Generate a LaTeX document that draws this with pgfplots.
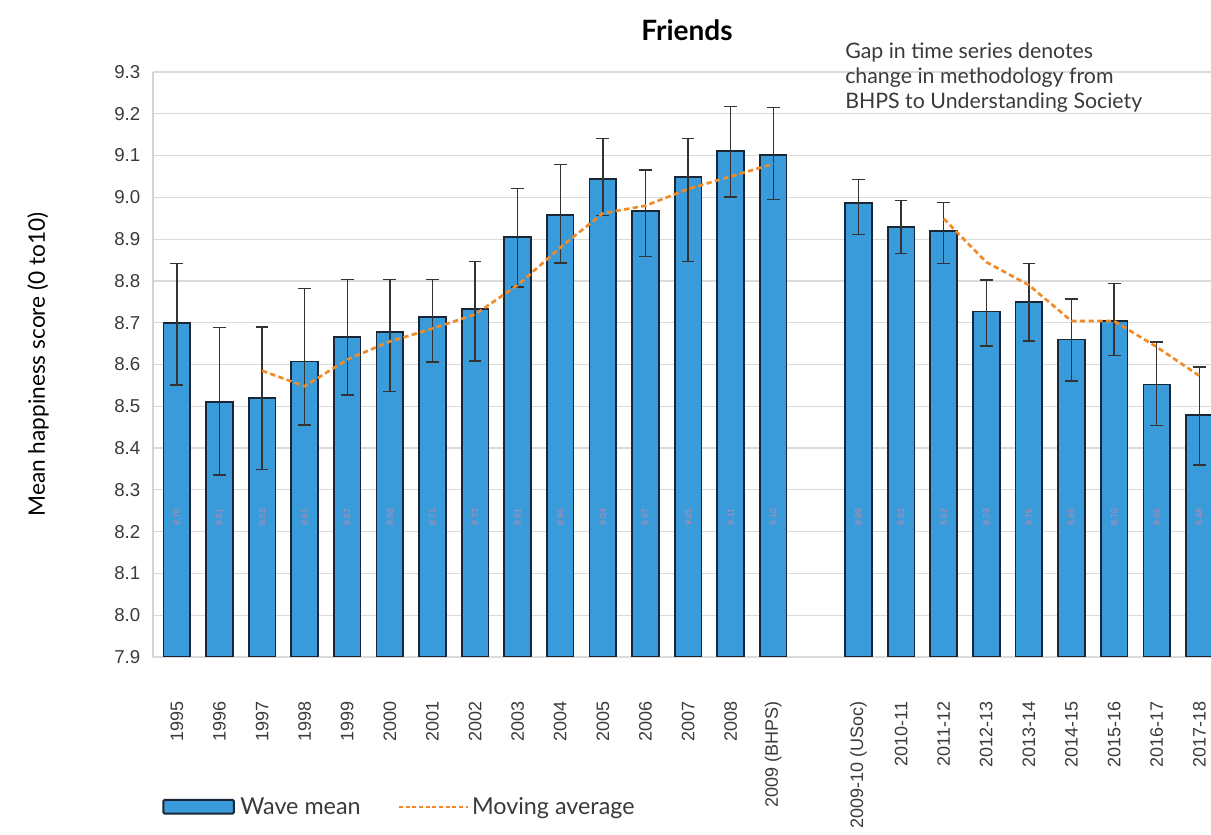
\documentclass[border=0pt]{standalone}
\usepackage{pgfplots}
\pgfplotsset{compat=1.18}
\usepackage{pgfplotstable}
\usepackage{fontspec}
\setmainfont{Lato}
\newfontfamily\arialf{Liberation Sans}
\definecolor{barblue}{HTML}{3A9BDA}
\definecolor{baredge}{HTML}{1A2633}
\definecolor{maorange}{HTML}{F28A26}
\definecolor{txt}{HTML}{3A3A3A}
\definecolor{errc}{HTML}{333333}
\definecolor{labc}{HTML}{C48AA6}

\pgfplotstableread{
x y ep em
0 8.700 0.142 0.149
1 8.510 0.178 0.175
2 8.520 0.170 0.171
3 8.607 0.175 0.152
4 8.665 0.139 0.138
5 8.677 0.127 0.142
6 8.713 0.091 0.107
7 8.732 0.115 0.124
8 8.905 0.116 0.119
9 8.957 0.122 0.114
10 9.044 0.097 0.087
11 8.967 0.098 0.109
12 9.049 0.092 0.203
13 9.111 0.106 0.110
14 9.101 0.114 0.106
16 8.987 0.056 0.076
17 8.929 0.063 0.063
18 8.919 0.069 0.077
19 8.727 0.075 0.083
20 8.749 0.093 0.093
21 8.660 0.097 0.099
22 8.704 0.090 0.082
23 8.552 0.102 0.098
24 8.479 0.115 0.119
}\barsdata

\pgfplotstableread{
x ma
2 8.585
3 8.548
4 8.612
5 8.655
6 8.686
7 8.720
8 8.790
9 8.880
10 8.962
11 8.980
12 9.020
13 9.050
14 9.080
}\maA

\pgfplotstableread{
x ma
18 8.949
19 8.845
20 8.790
21 8.704
22 8.704
23 8.642
24 8.573
}\maB

\begin{document}
\begin{tikzpicture}
\useasboundingbox (0,0) rectangle (908.25pt,626.25pt);
\begin{axis}[
  at={(114.75pt,133.5pt)}, anchor=south west,
  scale only axis, width=803.9pt, height=438.75pt,
  xmin=-0.56, xmax=24.6, ymin=7.9, ymax=9.3,
  axis lines*=left,
  x axis line style={draw=none},
  y axis line style={draw=gray!35, line width=0.8pt},
  major tick length=0pt,
  ymajorgrids, grid style={draw=gray!28, line width=0.9pt},
  ytick={7.9,8.0,8.1,8.2,8.3,8.4,8.5,8.6,8.7,8.8,8.9,9.0,9.1,9.2,9.3},
  yticklabel style={/pgf/number format/fixed, /pgf/number format/fixed zerofill,
    /pgf/number format/precision=1, /pgf/number format/assume math mode=true,
    font=\arialf\fontsize{14}{16}\selectfont, text=txt, xshift=-6pt},
  xtick={0,1,2,3,4,5,6,7,8,9,10,11,12,13,14,16,17,18,19,20,21,22,23,24},
  xticklabels={1995,1996,1997,1998,1999,2000,2001,2002,2003,2004,2005,2006,2007,2008,2009 (BHPS),2009-10 (USoc),2010-11,2011-12,2012-13,2013-14,2014-15,2015-16,2016-17,2017-18},
  xticklabel style={yshift=-30pt, rotate=90, anchor=east, font=\arialf\fontsize{13.5}{15}\selectfont, text=txt},
  ylabel={Mean happiness score (0 to10)},
  ylabel style={at={(axis description cs:-0.1073,0.5)}, anchor=center, rotate=0, font=\fontsize{17}{20}\selectfont, text=black},
  legend columns=2,
  legend style={at={(axis description cs:0.0047,-0.256)}, anchor=west, draw=none, fill=none,
    font=\fontsize{17.5}{20}\selectfont, text=txt,
    /tikz/every even column/.append style={column sep=26pt}},
  legend cell align=left,
]
\addplot[ybar, bar width=20pt, fill=barblue, draw=baredge, line width=1.3pt,
  legend image code/.code={\draw[fill=barblue, draw=baredge, line width=1.5pt, rounded corners=1pt] (0pt,-5.2pt) rectangle (53pt,5.2pt);},
  error bars/.cd, y dir=both, y explicit,
  error bar style={draw=errc, line width=1.1pt},
  error mark options={rotate=90, mark size=4.8pt, line width=1.1pt, draw=errc}]
  table[x=x, y=y, y error plus=ep, y error minus=em]{\barsdata};
\addlegendentry{\hspace{2pt}Wave mean}
\addplot[draw=maorange, line width=2pt, dash pattern=on 4pt off 2.5pt,
  legend image code/.code={\draw[maorange, line width=1.6pt, dash pattern=on 3pt off 2pt] (0pt,0pt) -- (52pt,0pt);}]
  table[x=x, y=ma]{\maA};
\addlegendentry{Moving average}
\addplot[draw=maorange, line width=2pt, dash pattern=on 4pt off 2.5pt, forget plot]
  table[x=x, y=ma]{\maB};
\addplot[draw=none, mark=none, forget plot, point meta=explicit, nodes near coords,
  /pgf/number format/fixed, /pgf/number format/fixed zerofill,
  /pgf/number format/precision=2, /pgf/number format/assume math mode=true,
  nodes near coords style={rotate=90, anchor=center, text=labc, font=\arialf\fontsize{6.5}{7}\selectfont}]
  table[x=x, y expr=8.235, meta=y]{\barsdata};
\end{axis}
\node[font=\bfseries\fontsize{21}{24}\selectfont, anchor=center] at (515.25pt,603.75pt) {Friends};
\node[font=\fontsize{16}{18.4}\selectfont, text=txt, anchor=north west, align=left, inner sep=0pt] at (633.75pt,594pt)
  {Gap in time series denotes\\change in methodology from\\BHPS to Understanding Society};
\end{tikzpicture}
\end{document}
